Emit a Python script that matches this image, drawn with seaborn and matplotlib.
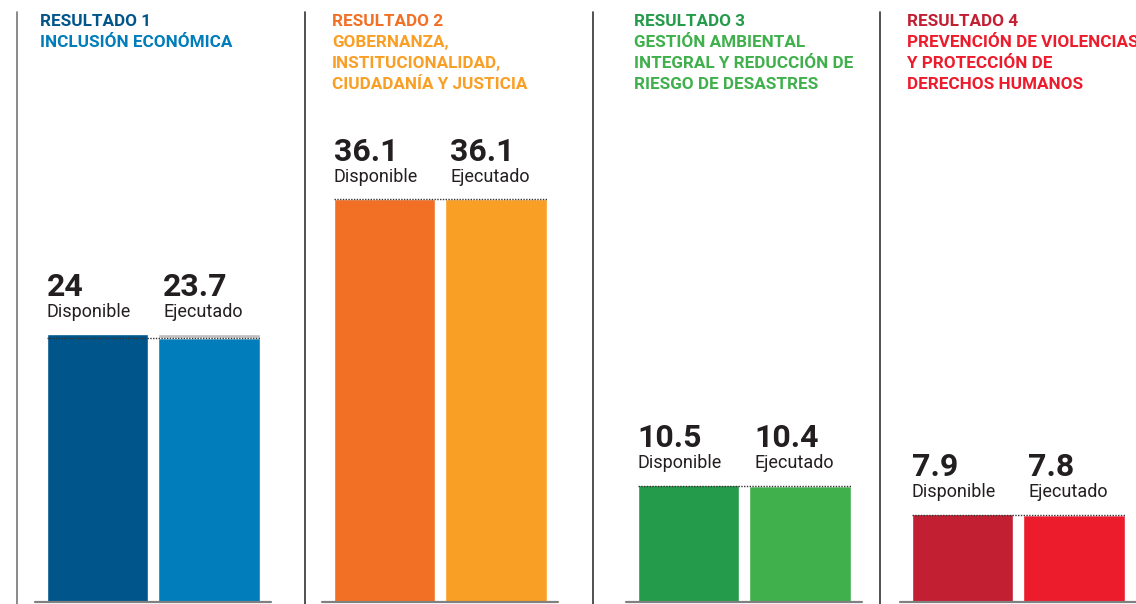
import matplotlib.pyplot as plt
from matplotlib.lines import Line2D
import pandas as pd
import seaborn as sns

# datos
titulos = [
    ["RESULTADO 1", "INCLUSIÓN ECONÓMICA"],
    ["RESULTADO 2", "GOBERNANZA,", "INSTITUCIONALIDAD,", "CIUDADANÍA Y JUSTICIA"],
    ["RESULTADO 3", "GESTIÓN AMBIENTAL", "INTEGRAL Y REDUCCIÓN DE", "RIESGO DE DESASTRES"],
    ["RESULTADO 4", "PREVENCIÓN DE VIOLENCIAS", "Y PROTECCIÓN DE", "DERECHOS HUMANOS"],
]
tipos = ["Disponible", "Ejecutado"]
disponible = [24, 36.1, 10.5, 7.9]
ejecutado = [23.7, 36.1, 10.4, 7.8]
colores = [
    ["#00558A", "#007DBA"],
    ["#F26F26", "#F99F25"],
    ["#239B4A", "#40B04C"],
    ["#C21F33", "#EC1C2D"],
]

sns.set_theme(style="white")
plt.rcParams['font.family'] = ['Roboto', 'DejaVu Sans']

W, H = 1136, 604
fig = plt.figure(figsize=(W / 100, H / 100), dpi=100)

ancho = 0.91
centros = [97.5, 384.5, 688.5, 962.5]   # centro de la primera barra (px)
px_unidad = 111.5
titulo_x = [40, 332, 634, 907]
separadores = [17, 305, 593, 880]

for i in range(4):
    df = pd.DataFrame({"tipo": tipos, "valor": [disponible[i], ejecutado[i]]})
    left = centros[i] - 0.56 * px_unidad
    ax = fig.add_axes([left / W, 2 / H, 2.12 * px_unidad / W, 557.5 / H])
    sns.barplot(data=df, x="tipo", y="valor", hue="tipo", palette=colores[i],
                width=ancho, legend=False, ax=ax, saturation=1)
    dif = disponible[i] - ejecutado[i]
    if dif > 0:
        ax.bar(1, dif, bottom=ejecutado[i], width=ancho, color="#BDBDBD")
    ax.hlines(ejecutado[i], -ancho / 2, 1 + ancho / 2, colors="#333333",
              linestyles=(0, (1, 1)), linewidth=1.0, zorder=5)
    ax.set_xlim(-0.56, 1.56)
    ax.set_ylim(0, 50)
    ax.axis("off")
    ax.plot([0, 1], [0, 0], transform=ax.transAxes, color="#808080",
            linewidth=1.6, clip_on=False)

    tope = max(disponible[i], ejecutado[i])
    for j, (val, dx) in enumerate([(disponible[i], 0), (ejecutado[i], 5)]):
        x0 = j - ancho / 2
        txt = f"{val:g}"
        ax.annotate(txt, xy=(x0, tope), xytext=(dx * 0.72, 38 * 0.72),
                    textcoords="offset points", ha="left", va="baseline",
                    fontsize=23, fontweight="bold", color="#231F20")
        ax.annotate(tipos[j], xy=(x0, tope), xytext=(dx * 0.72, 17 * 0.72),
                    textcoords="offset points", ha="left", va="baseline",
                    fontsize=13, color="#231F20")

    for k, linea in enumerate(titulos[i]):
        col = colores[i][0] if k == 0 else colores[i][1]
        fig.text(titulo_x[i] / W, 1 - (26 + 21 * k) / H, linea, ha="left",
                 va="baseline", fontsize=12.3, fontweight="bold", color=col)

for k, xs in enumerate(separadores):
    fig.add_artist(Line2D([xs / W, xs / W], [0, 1 - 12 / H],
                          color="#777777" if k == 0 else "#333333",
                          linewidth=1.2))

fig.savefig("out.png", dpi=100)
